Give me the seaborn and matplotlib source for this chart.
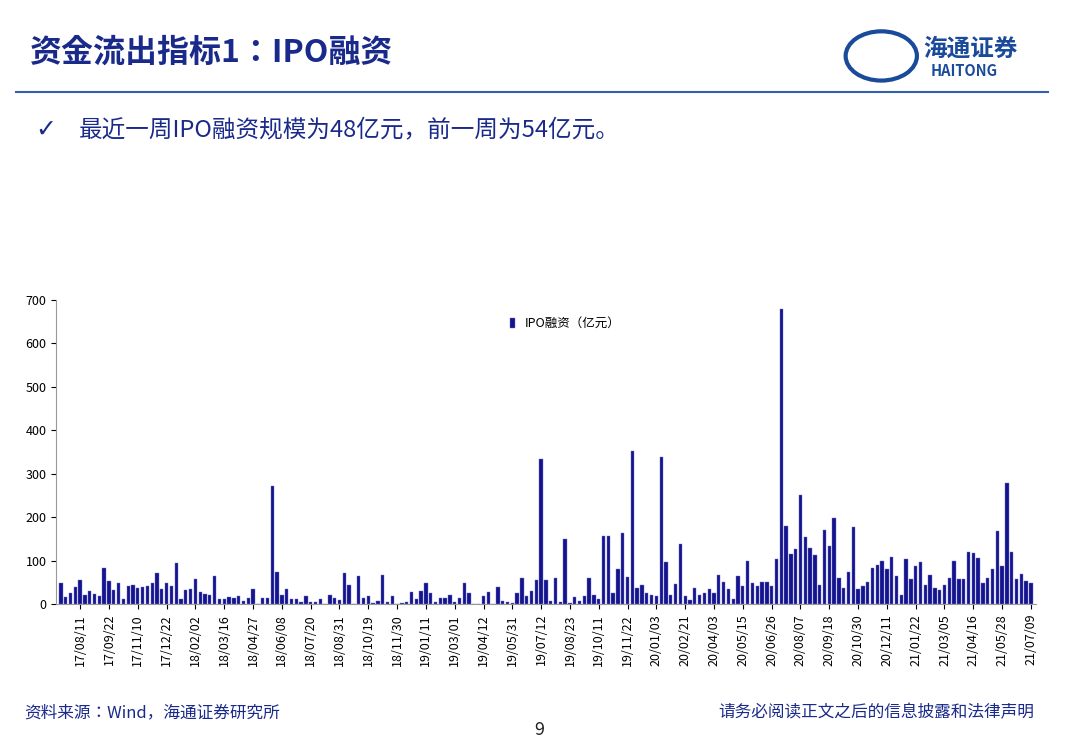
import matplotlib
matplotlib.use("Agg")
import matplotlib.pyplot as plt
from matplotlib import font_manager
import seaborn as sns
import pandas as pd
import numpy as np

names = {f.name for f in font_manager.fontManager.ttflist}
cjk = [n for n in ["Noto Sans CJK SC", "Noto Sans CJK JP", "Noto Sans CJK TC", "Noto Sans CJK KR"] if n in names]
plt.rcParams["font.family"] = "sans-serif"
plt.rcParams["font.sans-serif"] = cjk + ["DejaVu Sans"]

values = [48,17,26,40,55,22,30,23,20,83,53,32,50,13,42,45,37,39,43,48,72,36,50,41,96,13,32,35,58,28,24,21,64,11,
          13,17,14,20,8,15,35,0,15,15,272,75,22,36,12,13,5,20,5,5,12,0,22,15,10,72,45,0,65,15,20,4,8,
          67,5,19,0,4,5,28,11,31,50,25,6,15,14,22,5,15,48,25,0,0,20,28,0,39,8,5,4,25,60,18,31,55,334,
          55,8,61,6,150,4,17,8,18,60,21,12,158,156,25,82,165,63,352,38,45,27,22,19,338,97,21,47,138,18,10,37,22,27,34,27,
          67,52,36,13,65,42,100,48,43,52,52,41,103,680,181,115,128,252,155,130,113,44,171,133,198,61,37,75,178,36,42,52,
          84,90,100,82,108,65,22,105,57,88,97,45,67,37,33,45,60,100,58,57,120,117,106,48,61,80,169,87,278,120,57,70,54,48]

tick_labels = ["17/08/11","17/09/22","17/11/10","17/12/22","18/02/02","18/03/16","18/04/27","18/06/08",
               "18/07/20","18/08/31","18/10/19","18/11/30","19/01/11","19/03/01","19/04/12","19/05/31",
               "19/07/12","19/08/23","19/10/11","19/11/22","20/01/03","20/02/21","20/04/03","20/05/15",
               "20/06/26","20/08/07","20/09/18","20/10/30","20/12/11","21/01/22","21/03/05","21/04/16",
               "21/05/28","21/07/09"]

n = len(values)
df = pd.DataFrame({"idx": np.arange(n), "v": values})

fig = plt.figure(figsize=(10.8, 7.46), dpi=100)
ax = fig.add_axes([0.052, 0.19, 0.907, 0.408])
sns.barplot(data=df, x="idx", y="v", color="#0000A0", width=0.7, edgecolor="#7070d0",
            linewidth=0.3, ax=ax, label="IPO融资（亿元）", native_scale=True)
ax.set_xlim(-1, n)
ax.set_ylim(0, 700)
ax.set_yticks(range(0, 701, 100))
pos = [n - 1 - 6 * k for k in range(len(tick_labels))][::-1]
ax.set_xticks(pos)
ax.set_xticklabels(tick_labels, rotation=90, fontsize=9)
ax.tick_params(axis="y", labelsize=9)
ax.set_xlabel(""); ax.set_ylabel("")
for s in ["top", "right"]:
    ax.spines[s].set_visible(False)
for s in ["left", "bottom"]:
    ax.spines[s].set_color("#999999")
ax.legend(loc="upper center", bbox_to_anchor=(0.52, 0.98), frameon=False, fontsize=9,
          handlelength=0.4, handleheight=0.8)

fig.text(0.028, 0.93, "资金流出指标1：IPO融资", fontsize=23, fontweight="bold", color="#1a2a8a", va="center")
fig.text(0.855, 0.935, "海通证券", fontsize=17, fontweight="bold", color="#1a4a9a", va="center")
fig.text(0.862, 0.905, "HAITONG", fontsize=10.5, fontweight="bold", color="#1a4a9a", va="center")
fig.patches.append(matplotlib.patches.Circle((0.816, 0.925), 0.033, transform=fig.transFigure,
                   fill=False, edgecolor="#1a4a9a", linewidth=3))
fig.add_artist(matplotlib.lines.Line2D([0.015, 0.97], [0.877, 0.877], color="#3060b0", linewidth=1.5))
fig.text(0.033, 0.826, "✓", fontsize=18, color="#1a2a8a", va="center", fontfamily="DejaVu Sans")
fig.text(0.073, 0.826, "最近一周IPO融资规模为48亿元，前一周为54亿元。", fontsize=17, color="#1a2a8a", va="center")
fig.text(0.022, 0.045, "资料来源：Wind，海通证券研究所", fontsize=12, color="#1a2a8a", va="center")
fig.text(0.495, 0.022, "9", fontsize=13, color="#222222", va="center")
fig.text(0.958, 0.045, "请务必阅读正文之后的信息披露和法律声明", fontsize=12, color="#1a2a8a", va="center", ha="right")

fig.savefig("out.png", dpi=100)
